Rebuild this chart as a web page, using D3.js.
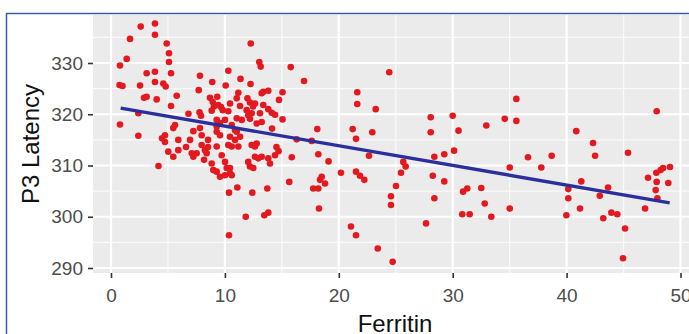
<!DOCTYPE html>
<html>
<meta charset="utf-8">
<head>
<script src="https://d3js.org/d3.v7.min.js"></script>
<style>
  body { margin: 0; background: #fff; }
  svg { display: block; font-family: "Liberation Sans", Arial, sans-serif; }
</style>
</head>
<body>
<div id="chart"></div>
<script>
// Ferritin (x) and P3 latency (y)
var ferritin = [
  2.61,1.67,1.38,0.79,0.75,1.01,2.55,3.13,3.13,2.90,2.40,0.79,2.40,
  3.86,3.86,4.89,5.09,5.09,3.86,5.27,3.86,4.59,4.80,4.01,5.77,5.27,4.74,4.48,
  5.62,5.47,5.91,4.74,5.03,5.47,5.91,4.17,
  7.81,8.89,7.70,8.69,9.33,8.93,9.04,9.42,9.66,9.81,10.30,10.07,6.80,7.77,7.90,
  8.84,10.30,10.45,9.57,10.01,10.60,7.23,7.81,7.96,6.94,9.28,9.57,10.45,10.89,11.04,
  7.09,7.23,7.52,7.96,8.25,8.40,9.28,9.72,10.30,10.60,8.84,8.98,9.28,10.01,10.16,
  9.57,10.01,10.45,10.36,11.09,10.36,8.52,9.28,9.28,8.17,6.59,8.52,
  12.27,13.02,13.14,15.78,16.95,11.37,12.25,11.18,11.04,11.33,13.37,13.81,13.23,
  15.06,14.75,11.98,12.20,12.64,12.47,12.35,13.37,13.81,14.11,14.40,15.06,11.91,
  13.08,11.04,11.48,12.05,12.20,12.79,13.23,14.14,18.11,10.89,11.33,16.30,17.62,
  12.35,12.79,11.18,12.64,14.53,14.71,15.87,18.20,19.10,12.05,12.20,12.49,12.64,
  12.93,13.23,13.81,13.96,14.40,10.45,10.60,12.41,13.72,11.83,13.46,13.81,15.65,
  17.76,18.20,18.35,18.50,18.79,18.26,
  21.62,21.62,23.24,24.43,21.22,21.51,22.94,22.65,25.66,25.87,28.07,28.07,30.00,
  30.51,28.39,29.26,30.12,20.19,21.51,21.86,22.24,21.07,21.51,23.42,24.73,24.58,
  24.58,25.02,25.46,27.66,28.25,29.26,28.39,
  35.59,34.57,35.59,32.95,40.85,42.32,42.50,45.39,47.91,36.61,38.69,35.01,37.78,
  47.88,48.26,48.47,49.08,30.91,31.28,30.84,31.49,32.51,32.81,33.39,35.01,39.98,
  40.15,40.15,41.29,41.18,42.91,43.64,43.22,43.93,44.45,45.13,44.95,47.15,46.89,
  47.91,47.82,47.97,48.93
];
var latency = [
  337.1,334.7,330.8,329.5,325.7,325.5,325.6,328.0,323.4,323.2,320.2,318.0,315.8,
  337.7,335.5,333.8,331.9,330.2,328.3,328.0,326.3,326.0,325.4,322.9,323.6,321.6,315.9,315.3,
  317.9,317.3,315.0,314.6,312.7,311.7,313.0,309.9,
  327.5,326.3,324.7,323.2,323.4,322.4,321.5,321.8,321.4,320.8,328.5,325.6,320.1,320.4,319.7,
  320.7,320.6,322.1,318.3,318.9,317.9,316.7,317.3,315.9,315.0,316.6,315.9,315.6,315.0,316.6,
  312.4,311.7,312.4,314.0,313.0,312.4,313.7,312.0,314.0,313.7,310.4,309.1,308.8,310.7,309.5,
  307.8,308.1,308.5,304.7,305.7,296.4,313.6,318.9,317.6,311.1,313.6,315.0,
  333.8,330.2,329.3,329.2,326.5,326.9,325.9,324.2,323.1,321.6,324.4,324.6,324.1,
  324.3,322.8,323.1,322.3,322.1,321.5,320.2,321.8,321.0,320.3,319.9,319.0,320.8,
  320.2,319.2,318.9,319.8,319.1,318.2,318.5,317.2,317.1,316.9,315.6,315.1,314.8,
  314.0,314.3,313.7,313.7,313.6,312.8,311.6,312.2,310.8,310.7,309.8,309.5,311.7,
  311.4,311.7,311.4,310.4,312.0,309.5,308.1,304.7,305.5,300.0,300.3,300.8,306.8,
  305.5,305.5,307.2,307.8,306.5,301.6,
  324.3,322.0,321.0,328.2,317.1,315.2,316.5,311.9,310.7,309.8,319.4,316.5,319.7,
  316.8,311.7,312.2,312.9,308.6,308.8,308.0,307.2,298.1,296.4,293.8,291.2,304.0,
  302.3,306.0,308.6,298.7,308.0,306.9,303.6,
  323.0,319.1,318.7,317.8,316.7,314.4,311.9,312.5,320.6,311.6,311.9,309.6,309.6,
  308.6,309.1,309.5,309.7,304.9,305.5,300.5,300.5,305.6,302.6,300.0,301.6,300.3,
  305.4,303.6,306.9,301.6,304.1,305.7,299.7,300.8,300.5,297.7,291.9,307.6,301.6,
  306.8,305.2,303.6,306.6
];
// linear fit drawn in the picture
var fitX = [0.85, 49.05];
var fitY = [321.2, 302.7];

var xTicks = [0, 10, 20, 30, 40, 50];
var xMinor = [5, 15, 25, 35, 45];
var yTicks = [290, 300, 310, 320, 330];
var yMinor = [295, 305, 315, 325, 335];

var width = 689, height = 334;

var x = d3.scaleLinear().domain([0, 50]).range([111, 680.5]);
var y = d3.scaleLinear().domain([290, 330]).range([268, 63]);

var panel = {left: 93, right: 700, top: 15, bottom: 273};

var svg = d3.select("#chart").append("svg")
    .attr("width", width)
    .attr("height", height);

svg.append("rect")
    .attr("width", width).attr("height", height)
    .attr("fill", "#fff");

// grey panel
svg.append("rect")
    .attr("x", panel.left).attr("y", panel.top)
    .attr("width", panel.right - panel.left)
    .attr("height", panel.bottom - panel.top)
    .attr("fill", "#ebebeb");

var grid = svg.append("g");
grid.selectAll(".xminor").data(xMinor).enter().append("line")
    .attr("x1", d => x(d)).attr("x2", d => x(d))
    .attr("y1", panel.top).attr("y2", panel.bottom)
    .attr("stroke", "#fafafa").attr("stroke-width", 1.2);
grid.selectAll(".yminor").data(yMinor).enter().append("line")
    .attr("y1", d => y(d)).attr("y2", d => y(d))
    .attr("x1", panel.left).attr("x2", panel.right)
    .attr("stroke", "#fafafa").attr("stroke-width", 1.2);
grid.selectAll(".xmajor").data(xTicks).enter().append("line")
    .attr("x1", d => x(d)).attr("x2", d => x(d))
    .attr("y1", panel.top).attr("y2", panel.bottom)
    .attr("stroke", "#fff").attr("stroke-width", 2.2);
grid.selectAll(".ymajor").data(yTicks).enter().append("line")
    .attr("y1", d => y(d)).attr("y2", d => y(d))
    .attr("x1", panel.left).attr("x2", panel.right)
    .attr("stroke", "#fff").attr("stroke-width", 2.2);

// points
svg.append("g").selectAll("circle")
    .data(ferritin.map((f, i) => [f, latency[i]]))
    .enter().append("circle")
    .attr("cx", d => x(d[0]))
    .attr("cy", d => y(d[1]))
    .attr("r", 3.3)
    .attr("fill", "#e3191f");

// fit line
svg.append("path")
    .datum(fitX.map((f, i) => [f, fitY[i]]))
    .attr("d", d3.line().x(d => x(d[0])).y(d => y(d[1])))
    .attr("fill", "none")
    .attr("stroke", "#2b2f9c")
    .attr("stroke-width", 3.4);

// axes
var xAxis = svg.append("g")
    .attr("transform", "translate(0," + panel.bottom + ")")
    .call(d3.axisBottom(x).tickValues(xTicks).tickSize(5).tickPadding(11));
var yAxis = svg.append("g")
    .attr("transform", "translate(" + panel.left + ",0)")
    .call(d3.axisLeft(y).tickValues(yTicks).tickSize(5).tickPadding(5));
[xAxis, yAxis].forEach(function(a) {
  a.select(".domain").remove();
  a.selectAll(".tick line").attr("stroke", "#333").attr("stroke-width", 1.6);
  a.selectAll(".tick text")
    .attr("fill", "#4d4d4d")
    .style("font-size", "19px")
    .style("font-family", "'Liberation Sans', Arial, sans-serif");
});

// titles
svg.append("text")
    .attr("x", 395).attr("y", 332)
    .attr("text-anchor", "middle")
    .style("font-size", "24px")
    .attr("fill", "#111")
    .text("Ferritin");
svg.append("text")
    .attr("transform", "translate(39,144) rotate(-90)")
    .attr("text-anchor", "middle")
    .style("font-size", "24px")
    .attr("fill", "#111")
    .text("P3 Latency");

// outer frame
svg.append("path")
    .attr("d", "M6.5," + height + "V13.5H" + width)
    .attr("fill", "none")
    .attr("stroke", "#3c5ba6")
    .attr("stroke-width", 1.5);
</script>
</body>
</html>
